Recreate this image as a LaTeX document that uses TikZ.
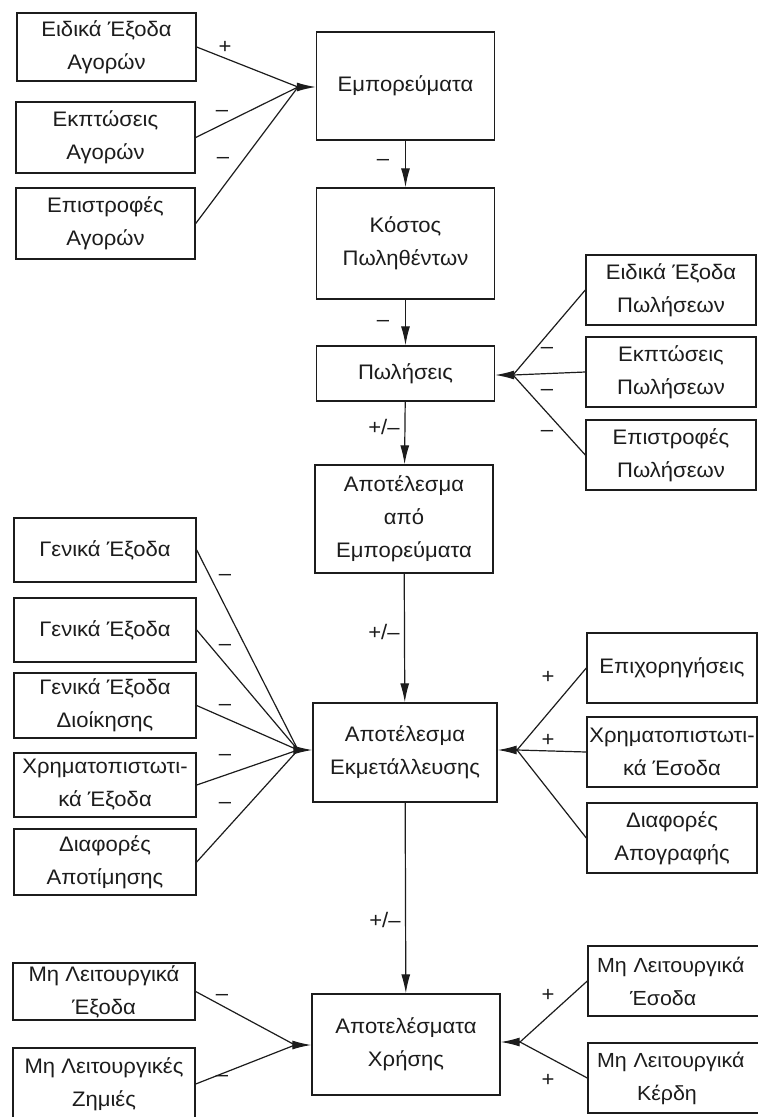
\documentclass[tikz,border=0pt]{standalone}
\usepackage{fontspec}
\setmainfont{Liberation Sans}[FakeStretch=1.05]
\usetikzlibrary{arrows.meta}
\definecolor{ink}{HTML}{1C1C1C}
\begin{document}
\begin{tikzpicture}[x=1pt,y=-1pt,
  box/.style={draw=ink, line width=1.4pt, fill=white, align=center, inner sep=0pt,
    text=ink, font=\fontsize{21}{33}\selectfont},
  lbox/.style={box, minimum width=182pt},
  cbox/.style={box, minimum width=178pt},
  rbox/.style={box, minimum width=170pt},
  cutbox/.style={box, minimum width=210pt, minimum height=70pt, align=left,
    text width=192pt, font=\fontsize{20.4}{33}\selectfont},
  ln/.style={draw=ink, line width=1.2pt},
  arr/.style={ln, -{Latex[length=19pt,width=9pt]}},
  lab/.style={text=ink, font=\fontsize{21}{24}\selectfont, inner sep=0pt}]
\useasboundingbox (0,0) rectangle (758,1117);
\clip (0,0) rectangle (758,1117);
\fill[white] (0,0) rectangle (758,1117);

% ---------- centre column ----------
\node[cbox, minimum height=108pt] (E)  at (405.5,86)   {Εμπορεύματα};
\node[cbox, minimum height=111pt] (K)  at (405.5,243.5) {Κόστος\\Πωληθέντων};
\node[cbox, minimum height=55pt]  (P)  at (405.5,373.5) {Πωλήσεις};
\node[cbox, minimum height=108pt] (AE) at (404,519)   {Αποτέλεσμα\\από\\Εμπορεύματα};
\node[box, minimum width=184pt, minimum height=99pt] (AX) at (405,752.5) {Αποτέλεσμα\\Εκμετάλλευσης};
\node[box, minimum width=188pt, minimum height=101pt] (AC) at (406,1044.5) {Αποτελέσματα\\Χρήσης};

\draw[arr] (E) -- (K);
\draw[arr] (K) -- (P);
\draw[arr] (P) -- (AE);
\draw[arr] (AE) -- (AX);
\draw[arr] (AX) -- (AC);
\node[lab] at (383,162) {–};
\node[lab] at (383,323) {–};
\node[lab] at (384,427) {+/–};
\node[lab] at (384,632) {+/–};
\node[lab] at (385,920) {+/–};

% ---------- top left ----------
\node[box, minimum width=179pt, minimum height=68pt] (A1) at (106.5,47)    {Ειδικά Έξοδα\\Αγορών};
\node[box, minimum width=179pt, minimum height=71pt] (A2) at (105.5,137.5) {Εκπτώσεις\\Αγορών};
\node[box, minimum width=179pt, minimum height=71pt] (A3) at (105.5,223.5) {Επιστροφές\\Αγορών};
\coordinate (cE) at (298,87);
\draw[ln] (A1.east) -- (cE);
\draw[ln] (A2.east) -- (cE);
\draw[ln] (A3.east) -- (cE);
\draw[arr] (cE) -- (cE -| E.west);
\node[lab] at (225,47) {+};
\node[lab] at (222,113) {–};
\node[lab] at (223,160) {–};

% ---------- right of Πωλήσεις ----------
\node[rbox, minimum height=70pt] (S1) at (671,290) {Ειδικά Έξοδα\\Πωλήσεων};
\node[rbox, minimum height=70pt] (S2) at (671,372) {Εκπτώσεις\\Πωλήσεων};
\node[rbox, minimum height=70pt] (S3) at (671,455) {Επιστροφές\\Πωλήσεων};
\coordinate (cP) at (513,375);
\draw[ln] (S1.west) -- (cP);
\draw[ln] (S2.west) -- (cP);
\draw[ln] (S3.west) -- (cP);
\draw[arr] (cP) -- (cP -| P.east);
\node[lab] at (547,350) {–};
\node[lab] at (547,392) {–};
\node[lab] at (547,433) {–};

% ---------- left of Αποτέλεσμα Εκμετάλλευσης ----------
\node[lbox, minimum height=64pt] (G1) at (105,550)   {Γενικά Έξοδα};
\node[lbox, minimum height=64pt] (G2) at (105,630)   {Γενικά Έξοδα};
\node[lbox, minimum height=65pt] (G3) at (105,705.5) {Γενικά Έξοδα\\Διοίκησης};
\node[lbox, minimum height=64pt] (G4) at (105,785)   {Χρηματοπιστωτι-\\κά Έξοδα};
\node[lbox, minimum height=66pt] (G5) at (105,862)   {Διαφορές\\Αποτίμησης};
\coordinate (cL) at (298,750);
\foreach \g in {G1,G2,G3,G4,G5} \draw[ln] (\g.east) -- (cL);
\draw[arr] (cL) -- (cL -| AX.west);
\node[lab] at (225,577) {–};
\node[lab] at (225,647) {–};
\node[lab] at (225,707) {–};
\node[lab] at (225,757) {–};
\node[lab] at (225,805) {–};

% ---------- right of Αποτέλεσμα Εκμετάλλευσης ----------
\node[rbox, minimum height=70pt] (R1) at (672,668) {Επιχορηγήσεις};
\node[rbox, minimum height=70pt] (R2) at (672,752) {Χρηματοπιστωτι-\\κά Έσοδα};
\node[rbox, minimum height=70pt] (R3) at (672,838) {Διαφορές\\Απογραφής};
\coordinate (cR) at (517,750);
\draw[ln] (R1.west) -- (cR);
\draw[ln] (R2.west) -- (cR);
\draw[ln] (R3.west) -- (cR);
\draw[arr] (cR) -- (cR -| AX.east);
\node[lab] at (548,677) {+};
\node[lab] at (548,740) {+};

% ---------- bottom ----------
\node[lbox, minimum height=57pt] (B1) at (104,991.5) {Μη Λειτουργικά\\Έξοδα};
\node[lbox, minimum height=72pt] (B2) at (104,1084)  {Μη Λειτουργικές\\Ζημιές};
\coordinate (cB) at (295,1045);
\draw[ln] (B1.east) -- (cB);
\draw[ln] (B2.east) -- (cB);
\draw[arr] (cB) -- (cB -| AC.west);
\node[lab] at (222,997) {–};
\node[lab] at (222,1078) {–};

\node[cutbox] (C1) at (693,981)  {Μη Λειτουργικά\\\hspace*{33pt}Έσοδα};
\node[cutbox] (C2) at (693,1078) {Μη Λειτουργικά\\\hspace*{40pt}Κέρδη};
\coordinate (cC) at (520,1042);
\draw[ln] (C1.west) -- (cC);
\draw[ln] (C2.west) -- (cC);
\draw[arr] (cC) -- (cC -| AC.east);
\node[lab] at (548,995) {+};
\node[lab] at (548,1080) {+};
\end{tikzpicture}
\end{document}
